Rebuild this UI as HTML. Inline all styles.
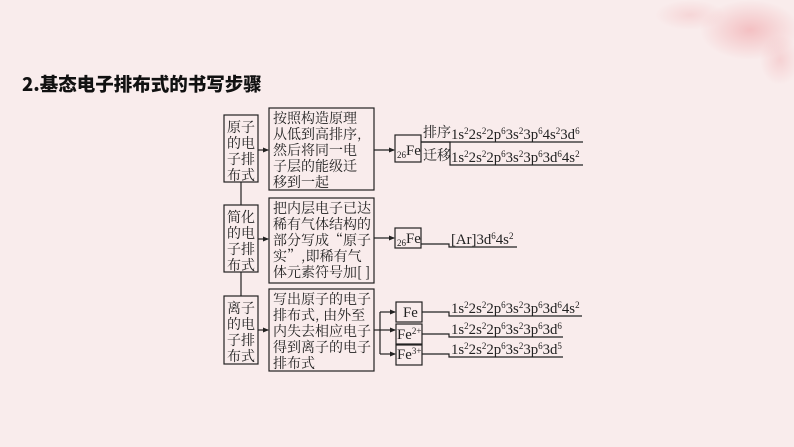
<!DOCTYPE html>
<html><head><meta charset="utf-8"><style>
html,body{margin:0;padding:0;}
body{width:794px;height:447px;background:#f9ecec;overflow:hidden;position:relative;font-family:"Liberation Serif","Noto Serif CJK SC",serif;}
svg{position:absolute;left:0;top:0;}
.c{font-family:"Noto Serif CJK SC",serif;font-size:14px;fill:#222;}
.f{font-family:"Liberation Serif",serif;font-size:14.8px;fill:#222;}
.s{font-size:9px;}
</style></head><body>
<svg width="794" height="447" viewBox="0 0 794 447">
<defs>
<radialGradient id="g" cx="0.5" cy="0.5" r="0.5"><stop offset="0" stop-color="#f2b5b8" stop-opacity="0.8"/><stop offset="1" stop-color="#f2b5b8" stop-opacity="0"/></radialGradient>
<marker id="a" markerWidth="6" markerHeight="6" refX="5" refY="3" orient="auto" markerUnits="userSpaceOnUse"><path d="M0,0.5 L6,3 L0,5.5z" fill="#222"/></marker>
</defs>
<ellipse cx="750" cy="30" rx="50" ry="30" fill="url(#g)"/>
<ellipse cx="690" cy="15" rx="35" ry="15" fill="url(#g)" opacity="0.5"/>
<ellipse cx="780" cy="60" rx="20" ry="25" fill="url(#g)" opacity="0.6"/>
<text x="22" y="91" style="font-family:'Noto Sans CJK SC',sans-serif;font-weight:900;font-size:18.5px;fill:#111">2.基态电子排布式的书写步骤</text>
<g fill="none" stroke="#222" stroke-width="1.2">
<rect x="224" y="115" width="34" height="67"/>
<rect x="269" y="108" width="105" height="82"/>
<rect x="395" y="135" width="26" height="27"/>
<rect x="224" y="205" width="34" height="67"/>
<rect x="269" y="198" width="105" height="85"/>
<rect x="395" y="228" width="26" height="20"/>
<rect x="224" y="296" width="34" height="68"/>
<rect x="269" y="289" width="105" height="82"/>
<rect x="396" y="302" width="26" height="20"/>
<rect x="396" y="324" width="26" height="20"/>
<rect x="396" y="345" width="26" height="20"/>
<line x1="241" y1="182" x2="241" y2="205"/>
<line x1="241" y1="272" x2="241" y2="296"/>
<line x1="258" y1="150" x2="268" y2="150" marker-end="url(#a)"/>
<line x1="258" y1="239" x2="268" y2="239" marker-end="url(#a)"/>
<line x1="258" y1="330" x2="268" y2="330" marker-end="url(#a)"/>
<line x1="374" y1="150" x2="394" y2="150" marker-end="url(#a)"/>
<line x1="374" y1="238" x2="394" y2="238" marker-end="url(#a)"/>
<line x1="374" y1="330" x2="380" y2="330"/>
<polyline points="380,312 380,354"/>
<line x1="380" y1="312" x2="395" y2="312" marker-end="url(#a)"/>
<line x1="380" y1="330" x2="395" y2="330" marker-end="url(#a)"/>
<line x1="380" y1="354" x2="395" y2="354" marker-end="url(#a)"/>
<polyline points="421,142 583,142"/>
<polyline points="421,142 450,142 450,165 583,165"/>
<polyline points="421,244 449,244 449,247 517,247"/>
<polyline points="422,312 449,312 449,316 582,316"/>
<polyline points="422,334 449,334 449,337 563,337"/>
<polyline points="422,354 449,354 449,357 563,357"/>
</g>
<g class="c">
<text x="227" y="132">原子</text><text x="227" y="148">的电</text><text x="227" y="164">子排</text><text x="227" y="180">布式</text>
<text x="227" y="222">简化</text><text x="227" y="238">的电</text><text x="227" y="254">子排</text><text x="227" y="270">布式</text>
<text x="227" y="313">离子</text><text x="227" y="329">的电</text><text x="227" y="345">子排</text><text x="227" y="361">布式</text>
<text x="273" y="123">按照构造原理</text><text x="273" y="139">从低到高排序,</text><text x="273" y="155">然后将同一电</text><text x="273" y="171">子层的能级迁</text><text x="273" y="187">移到一起</text>
<text x="273" y="213">把内层电子已达</text><text x="273" y="229">稀有气体结构的</text><text x="273" y="245">部分写成“原子</text><text x="273" y="261">实”,即稀有气</text><text x="273" y="277">体元素符号加[ ]</text>
<text x="273" y="304">写出原子的电子</text><text x="273" y="320">排布式, 由外至</text><text x="273" y="336">内失去相应电子</text><text x="273" y="352">得到离子的电子</text><text x="273" y="368">排布式</text>
<text x="423" y="137">排序</text><text x="423" y="160">迁移</text>
</g>
<g class="f">
<text x="397" y="155"><tspan class="s" dy="3">26</tspan><tspan dy="-3">Fe</tspan></text>
<text x="397" y="243"><tspan class="s" dy="3">26</tspan><tspan dy="-3">Fe</tspan></text>
<text x="403" y="317">Fe</text>
<text x="397" y="339">Fe<tspan class="s" dy="-5">2+</tspan></text>
<text x="397" y="359">Fe<tspan class="s" dy="-5">3+</tspan></text>
<text x="451" y="139">1s<tspan class="s" dy="-5">2</tspan><tspan dy="5">2s</tspan><tspan class="s" dy="-5">2</tspan><tspan dy="5">2p</tspan><tspan class="s" dy="-5">6</tspan><tspan dy="5">3s</tspan><tspan class="s" dy="-5">2</tspan><tspan dy="5">3p</tspan><tspan class="s" dy="-5">6</tspan><tspan dy="5">4s</tspan><tspan class="s" dy="-5">2</tspan><tspan dy="5">3d</tspan><tspan class="s" dy="-5">6</tspan></text>
<text x="451" y="162">1s<tspan class="s" dy="-5">2</tspan><tspan dy="5">2s</tspan><tspan class="s" dy="-5">2</tspan><tspan dy="5">2p</tspan><tspan class="s" dy="-5">6</tspan><tspan dy="5">3s</tspan><tspan class="s" dy="-5">2</tspan><tspan dy="5">3p</tspan><tspan class="s" dy="-5">6</tspan><tspan dy="5">3d</tspan><tspan class="s" dy="-5">6</tspan><tspan dy="5">4s</tspan><tspan class="s" dy="-5">2</tspan></text>
<text x="451" y="244">[Ar]3d<tspan class="s" dy="-5">6</tspan><tspan dy="5">4s</tspan><tspan class="s" dy="-5">2</tspan></text>
<text x="451" y="313">1s<tspan class="s" dy="-5">2</tspan><tspan dy="5">2s</tspan><tspan class="s" dy="-5">2</tspan><tspan dy="5">2p</tspan><tspan class="s" dy="-5">6</tspan><tspan dy="5">3s</tspan><tspan class="s" dy="-5">2</tspan><tspan dy="5">3p</tspan><tspan class="s" dy="-5">6</tspan><tspan dy="5">3d</tspan><tspan class="s" dy="-5">6</tspan><tspan dy="5">4s</tspan><tspan class="s" dy="-5">2</tspan></text>
<text x="451" y="334">1s<tspan class="s" dy="-5">2</tspan><tspan dy="5">2s</tspan><tspan class="s" dy="-5">2</tspan><tspan dy="5">2p</tspan><tspan class="s" dy="-5">6</tspan><tspan dy="5">3s</tspan><tspan class="s" dy="-5">2</tspan><tspan dy="5">3p</tspan><tspan class="s" dy="-5">6</tspan><tspan dy="5">3d</tspan><tspan class="s" dy="-5">6</tspan></text>
<text x="451" y="354">1s<tspan class="s" dy="-5">2</tspan><tspan dy="5">2s</tspan><tspan class="s" dy="-5">2</tspan><tspan dy="5">2p</tspan><tspan class="s" dy="-5">6</tspan><tspan dy="5">3s</tspan><tspan class="s" dy="-5">2</tspan><tspan dy="5">3p</tspan><tspan class="s" dy="-5">6</tspan><tspan dy="5">3d</tspan><tspan class="s" dy="-5">5</tspan></text>
</g>
</svg>
</body></html>
